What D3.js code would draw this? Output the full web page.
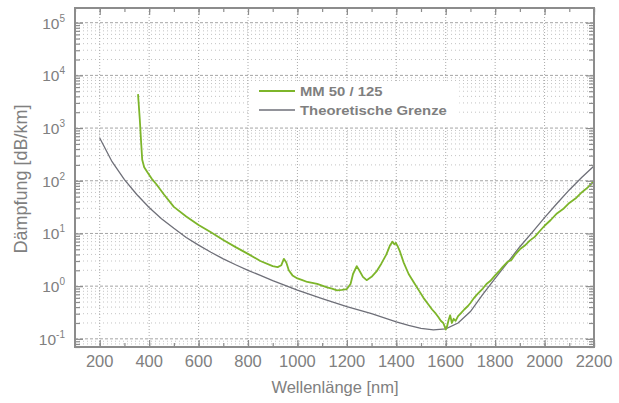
<!DOCTYPE html>
<html><head><meta charset="utf-8">
<script src="https://cdn.jsdelivr.net/npm/d3@7"></script>
<style>
body{margin:0;background:#fff;}
svg{display:block;font-family:"Liberation Sans",Arial,sans-serif;}
</style></head>
<body><svg id="c" width="619" height="403"></svg>
<script>
// ---- data ----
const seriesNames = ["MM 50 / 125", "Theoretische Grenze"];
const mmWavelength = [355,362,368,372,380,395,410,430,460,500,550,600,650,700,750,800,850,900,920,935,945,955,965,980,1000,1020,1040,1060,1080,1100,1120,1140,1160,1180,1200,1215,1225,1240,1250,1265,1280,1300,1320,1340,1360,1375,1385,1392,1398,1405,1415,1430,1450,1470,1490,1510,1530,1545,1560,1570,1580,1590,1596,1600,1605,1612,1618,1625,1632,1640,1650,1660,1675,1690,1700,1715,1730,1750,1765,1780,1800,1815,1830,1850,1865,1880,1900,1920,1940,1960,1980,2000,2025,2050,2075,2100,2125,2150,2175,2200];
const mmLoss = [4400,1500,500,250,180,140,110,85,55,32,21,14.5,10.5,7.5,5.5,4.1,3.0,2.4,2.3,2.5,3.3,2.8,2.0,1.6,1.4,1.3,1.2,1.15,1.1,1.02,0.95,0.9,0.83,0.85,0.88,1.1,1.7,2.4,2.0,1.5,1.3,1.5,1.9,2.7,4.0,6.0,7.0,6.2,6.6,5.8,4.5,2.8,1.7,1.2,0.85,0.6,0.45,0.36,0.3,0.26,0.22,0.2,0.17,0.15,0.17,0.23,0.28,0.2,0.24,0.22,0.27,0.3,0.36,0.42,0.48,0.6,0.72,0.9,1.1,1.25,1.6,1.9,2.3,2.9,3.1,3.9,5.0,5.9,7.3,8.6,11,14,18,24,29,38,46,60,75,100];
const thWavelength = [200,250,300,350,400,450,500,550,600,650,700,750,800,850,900,1000,1100,1200,1300,1400,1450,1500,1550,1600,1650,1700,1750,1800,1850,1900,1950,2000,2050,2100,2150,2200];
const thLoss = [650,230,105,55,31,19,12.5,8.4,6.0,4.4,3.3,2.55,2.0,1.6,1.27,0.84,0.58,0.41,0.3,0.21,0.18,0.158,0.148,0.155,0.2,0.33,0.7,1.4,2.8,5.6,10.5,20,37,67,115,190];
const xTickValues = [200,400,600,800,1000,1200,1400,1600,1800,2000,2200];
const yExponents = [-1,0,1,2,3,4,5];

// ---- layout ----
const svg = d3.select("#c");
const L=75, R=594, T=8, B=347;
const x = d3.scaleLinear().domain([100,2200]).range([L,R]);
const y = d3.scaleLog().domain([0.07,1.9e5]).range([B,T]);
const frame="#8c8c8c", txt="#808080";

const minorY=[];
for(let e=-2;e<=5;e++) for(let k=2;k<=9;k++){const v=k*Math.pow(10,e); if(v>=0.07&&v<=1.9e5) minorY.push(v);}
const majorY = yExponents.map(e=>Math.pow(10,e));
const minorX = d3.range(100,2201,100);

const g = svg.append("g");
g.selectAll(".hmin").data(minorY).join("line")
 .attr("x1",L).attr("x2",R).attr("y1",d=>y(d)).attr("y2",d=>y(d))
 .attr("stroke","#b4b4b4").attr("stroke-width",0.8).attr("stroke-dasharray","1,3");
g.selectAll(".hmaj").data(majorY).join("line")
 .attr("x1",L).attr("x2",R).attr("y1",d=>y(d)).attr("y2",d=>y(d))
 .attr("stroke","#9a9a9a").attr("stroke-width",0.9).attr("stroke-dasharray","3,2");
g.selectAll(".vmaj").data(xTickValues.slice(0,-1)).join("line")
 .attr("y1",T).attr("y2",B).attr("x1",d=>x(d)).attr("x2",d=>x(d))
 .attr("stroke","#a0a0a0").attr("stroke-width",0.9).attr("stroke-dasharray","1,2");

// legend background
svg.append("rect").attr("x",x(805)).attr("y",y(7500)).attr("width",x(1655)-x(805)).attr("height",y(1100)-y(7500)).attr("fill","#fff");

// curves
const line = d3.line().x(d=>x(d[0])).y(d=>y(d[1]));
svg.append("path").datum(d3.zip(thWavelength,thLoss)).attr("d",line)
 .attr("fill","none").attr("stroke","#6e6f78").attr("stroke-width",1.3);
svg.append("path").datum(d3.zip(mmWavelength,mmLoss)).attr("d",line)
 .attr("fill","none").attr("stroke","#7db52a").attr("stroke-width",1.8).attr("stroke-linejoin","round");

// ticks via axes
function styleAxis(sel){sel.select(".domain").remove(); sel.selectAll("line").attr("stroke",frame).attr("stroke-width",1.2); sel.selectAll("text").remove();}
svg.append("g").attr("transform",`translate(0,${B})`).call(d3.axisBottom(x).tickValues(minorX).tickSize(-4).tickFormat("")).call(styleAxis);
svg.append("g").attr("transform",`translate(0,${B})`).call(d3.axisBottom(x).tickValues(xTickValues).tickSize(-7).tickFormat("")).call(styleAxis);
svg.append("g").attr("transform",`translate(0,${T})`).call(d3.axisTop(x).tickValues(minorX).tickSize(-4).tickFormat("")).call(styleAxis);
svg.append("g").attr("transform",`translate(0,${T})`).call(d3.axisTop(x).tickValues(xTickValues).tickSize(-7).tickFormat("")).call(styleAxis);
svg.append("g").attr("transform",`translate(${L},0)`).call(d3.axisLeft(y).tickValues(minorY).tickSize(-5).tickFormat("")).call(styleAxis);
svg.append("g").attr("transform",`translate(${L},0)`).call(d3.axisLeft(y).tickValues(majorY).tickSize(-8).tickFormat("")).call(styleAxis);
svg.append("g").attr("transform",`translate(${R},0)`).call(d3.axisRight(y).tickValues(minorY).tickSize(-5).tickFormat("")).call(styleAxis);
svg.append("g").attr("transform",`translate(${R},0)`).call(d3.axisRight(y).tickValues(majorY).tickSize(-8).tickFormat("")).call(styleAxis);

svg.append("rect").attr("x",L).attr("y",T).attr("width",R-L).attr("height",B-T)
 .attr("fill","none").attr("stroke",frame).attr("stroke-width",2);

// x labels
svg.append("g").selectAll("text").data(xTickValues).join("text")
 .attr("x",d=>x(d)).attr("y",367).attr("text-anchor","middle")
 .attr("font-size",16.5).attr("fill",txt).text(d=>d);
// y labels
const yl = svg.append("g").selectAll("text").data(yExponents).join("text")
 .attr("x",65).attr("y",d=>y(Math.pow(10,d))+6).attr("text-anchor","end")
 .attr("font-size",15.5).attr("fill",txt);
yl.append("tspan").text("10");
yl.append("tspan").attr("dy",-7).attr("font-size",10).text(d=>d);

// titles
svg.append("text").attr("x",335).attr("y",393).attr("text-anchor","middle")
 .attr("font-size",16.5).attr("fill",txt).text("Wellenlänge [nm]");
svg.append("text").attr("transform","translate(27,179) rotate(-90)").attr("text-anchor","middle")
 .attr("font-size",18).attr("fill",txt).text("Dämpfung [dB/km]");

// legend
const leg = svg.append("g");
const legColors=["#7db52a","#6e6f78"];
seriesNames.forEach((n,i)=>{
  const yy = 91 + i*19;
  leg.append("line").attr("x1",259).attr("x2",295).attr("y1",yy).attr("y2",yy)
   .attr("stroke",legColors[i]).attr("stroke-width",i===0?2:1.6);
  leg.append("text").attr("transform",`translate(300,${yy+5}) scale(1.1,1)`).attr("font-size",13.5).attr("font-weight","bold")
   .attr("fill","#7f7f7f").text(n);
});
</script></body></html>
